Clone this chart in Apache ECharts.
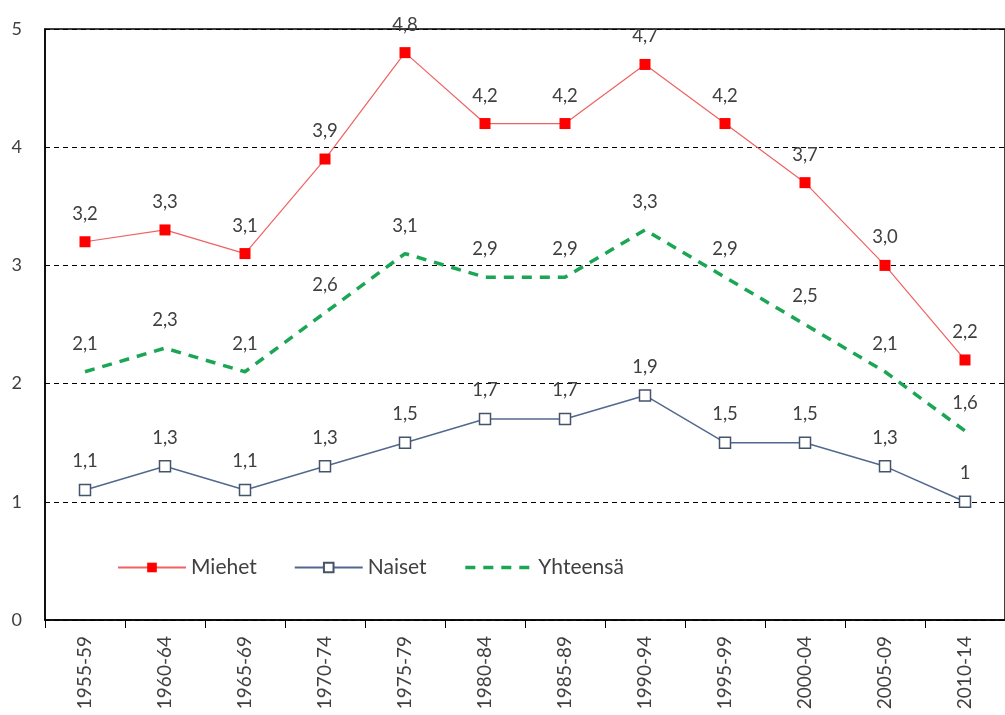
<!DOCTYPE html>
<html>
<head>
<meta charset="utf-8">
<script src="https://cdn.jsdelivr.net/npm/echarts@6/dist/echarts.min.js"></script>
<style>
html,body{margin:0;padding:0;background:#fff;}
#chart{width:1005px;height:715px;}
</style>
</head>
<body>
<div id="chart"></div>
<script>
var periods = ['1955-59','1960-64','1965-69','1970-74','1975-79','1980-84','1985-89','1990-94','1995-99','2000-04','2005-09','2010-14'];
var miehet = [3.2, 3.3, 3.1, 3.9, 4.8, 4.2, 4.2, 4.7, 4.2, 3.7, 3.0, 2.2];
var naiset = [1.1, 1.3, 1.1, 1.3, 1.5, 1.7, 1.7, 1.9, 1.5, 1.5, 1.3, 1.0];
var yhteensa = [2.1, 2.3, 2.1, 2.6, 3.1, 2.9, 2.9, 3.3, 2.9, 2.5, 2.1, 1.6];
var yTicks = [0, 1, 2, 3, 4, 5];

var font = 'Lato';
var txt = '#404040';

function comma(v){ return String(v).replace('.', ','); }

var labelBase = {
	show: true,
	position: 'top',
	distance: 13,
	fontFamily: font,
	fontSize: 18.5,
	color: txt
};

var chart = echarts.init(document.getElementById('chart'));
var option = {
	animation: false,
	textStyle: {fontFamily: font},
	grid: {
		left: 45, right: -13, top: 29, bottom: 95,
		show: true, borderColor: '#000', borderWidth: 1.5, backgroundColor: 'transparent'
	},
	legend: {
		left: 112, top: 552,
		itemWidth: 68, itemHeight: 12, itemGap: 37,
		textStyle: {fontFamily: font, fontSize: 21, color: txt},
		data: ['Miehet', 'Naiset', {name: 'Yhteensä', itemStyle: {opacity: 0}, lineStyle: {width: 3.5, type: [10, 8]}}]
	},
	xAxis: {
		type: 'category',
		data: periods,
		axisLine: {lineStyle: {color: '#000', width: 1.5}},
		axisTick: {show: true, length: 8, lineStyle: {color: '#000'}},
		axisLabel: {rotate: 90, fontFamily: font, fontSize: 19, color: txt, margin: 16}
	},
	yAxis: {
		type: 'value',
		min: yTicks[0], max: yTicks[yTicks.length - 1], interval: 1,
		axisLine: {show: true, lineStyle: {color: '#000', width: 1.5}},
		axisTick: {show: false},
		axisLabel: {fontFamily: font, fontSize: 18, color: txt, margin: 23},
		splitLine: {lineStyle: {color: '#000', type: [5, 4], width: 1}}
	},
	series: [
		{
			name: 'Miehet', type: 'line', data: miehet,
			symbol: 'rect', symbolSize: 11,
			itemStyle: {color: '#ff0000'},
			lineStyle: {color: '#f06262', width: 1.2},
			label: Object.assign({}, labelBase, {formatter: function(p){ return p.value.toFixed(1).replace('.', ','); }}),
			z: 3
		},
		{
			name: 'Naiset', type: 'line', data: naiset,
			symbol: 'rect', symbolSize: 11, showAllSymbol: true,
			itemStyle: {color: '#ffffff', borderColor: '#44546a', borderWidth: 1.5},
			lineStyle: {color: '#52698f', width: 1.5},
			label: Object.assign({}, labelBase, {formatter: function(p){ return comma(p.value); }}),
			z: 3
		},
		{
			name: 'Yhteensä', type: 'line', data: yhteensa,
			symbol: 'none',
			itemStyle: {color: '#1aa654'},
			lineStyle: {color: '#1aa654', width: 3.5, type: [10, 8]},
			z: 2
		},
		{
			// labels for the dashed total line (line series hides labels without symbols)
			name: 'Yhteensä-labels', type: 'scatter', data: yhteensa,
			symbolSize: 0.01,
			itemStyle: {color: 'rgba(0,0,0,0)', opacity: 1},
			label: Object.assign({}, labelBase, {distance: 18.5, opacity: 1, formatter: function(p){ return comma(p.value); }}),
			silent: true,
			z: 4
		}
	]
};
chart.setOption(option);
</script>
</body>
</html>
